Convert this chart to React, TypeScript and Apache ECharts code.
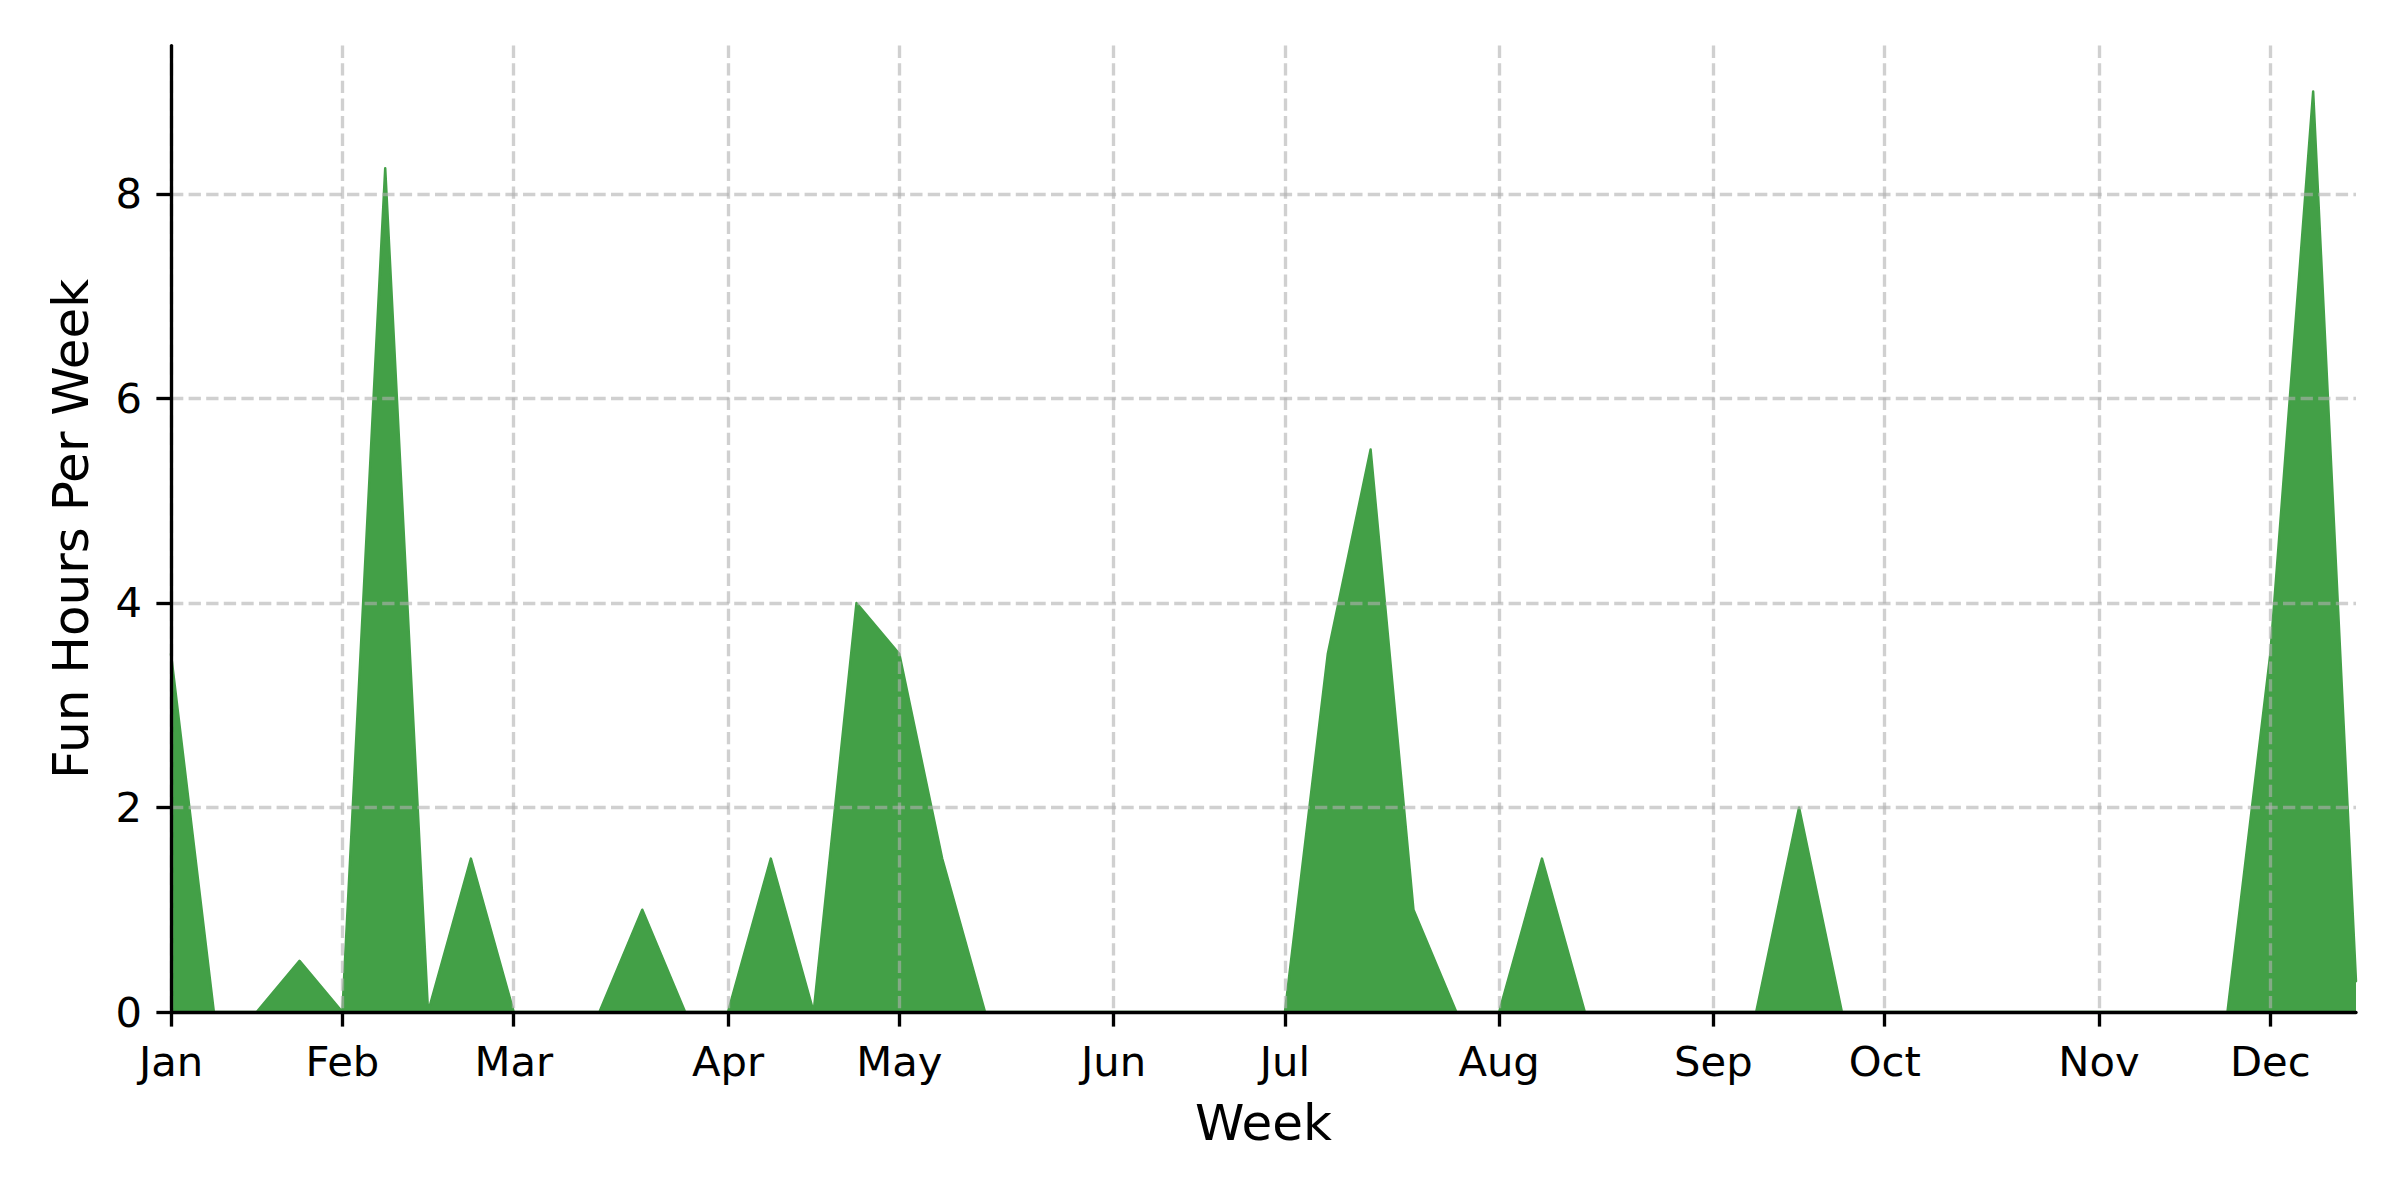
import React, { useEffect, useRef } from "react";
import * as echarts from "echarts";

// Week categories (52 weekly points)
const weeks: string[] = [
  "W1","W2","W3","W4","W5","W6","W7","W8","W9","W10","W11","W12","W13",
  "W14","W15","W16","W17","W18","W19","W20","W21","W22","W23","W24","W25","W26",
  "W27","W28","W29","W30","W31","W32","W33","W34","W35","W36","W37","W38","W39",
  "W40","W41","W42","W43","W44","W45","W46","W47","W48","W49","W50","W51","W52",
];

// Fun hours per week
const funHours: number[] = [
  3.5, 0, 0, 0.5, 0, 8.25, 0, 1.5, 0, 0, 0, 1, 0,
  0, 1.5, 0, 4, 3.5, 1.5, 0, 0, 0, 0, 0, 0, 0,
  0, 3.5, 5.5, 1, 0, 0, 1.5, 0, 0, 0, 0, 0, 2,
  0, 0, 0, 0, 0, 0, 0, 0, 0, 0, 3.5, 9, 0.3,
];

// Month tick positions (week index) and labels
const monthTickIndex: number[] = [0, 4, 8, 13, 17, 22, 26, 31, 36, 40, 45, 49];
const monthTickLabels: string[] = ["Jan", "Feb", "Mar", "Apr", "May", "Jun", "Jul", "Aug", "Sep", "Oct", "Nov", "Dec"];

// Y ticks
const yTicks: number[] = [0, 2, 4, 6, 8];

const FONT = "DejaVu Sans";
const GREEN = "#43a047";
const GRID = "rgba(176,176,176,0.6)";

export default function App() {
  const ref = useRef<HTMLDivElement>(null);
  useEffect(() => {
    if (!ref.current) return;
    const chart = echarts.init(ref.current, null, { renderer: "svg" });
    const isTick = (index: number) => monthTickIndex.indexOf(index) >= 0;
    const gridStyle = { color: GRID, width: 3.33, type: [12.3, 5.3] as any };
    chart.setOption({
      animation: false,
      backgroundColor: "#ffffff",
      textStyle: { fontFamily: FONT },
      grid: { left: 171, right: 44, top: 45.6, bottom: 188 },
      xAxis: {
        type: "category",
        data: weeks,
        boundaryGap: false,
        z: 3,
        name: "Week",
        nameLocation: "middle",
        nameGap: 86,
        nameTextStyle: { fontSize: 50, color: "#000", fontFamily: FONT },
        axisLine: { show: true, onZero: false, lineStyle: { color: "#000", width: 3.33 } },
        axisTick: {
          show: true,
          interval: (i: number) => isTick(i),
          length: 14.6,
          lineStyle: { color: "#000", width: 3.33 },
        },
        axisLabel: {
          interval: (i: number) => isTick(i),
          formatter: (_v: string, i: number) => {
            const k = monthTickIndex.indexOf(i);
            return k >= 0 ? monthTickLabels[k] : "";
          },
          fontSize: 41.7,
          color: "#000",
          fontFamily: FONT,
          margin: 28,
        },
        splitLine: {
          show: true,
          interval: (i: number) => isTick(i),
          lineStyle: gridStyle,
        },
      },
      yAxis: {
        type: "value",
        min: 0,
        max: 9.45,
        interval: 2,
        z: 3,
        name: "Fun Hours Per Week",
        nameLocation: "middle",
        nameRotate: 90,
        nameGap: 75,
        nameTextStyle: { fontSize: 50, color: "#000", fontFamily: FONT },
        axisLine: { show: true, lineStyle: { color: "#000", width: 3.33 } },
        axisTick: {
          show: true,
          customValues: yTicks,
          length: 14.6,
          lineStyle: { color: "#000", width: 3.33 },
        },
        axisLabel: {
          customValues: yTicks,
          formatter: (v: number) => (yTicks.indexOf(v) >= 0 ? String(v) : ""),
          fontSize: 41.7,
          color: "#000",
          fontFamily: FONT,
          margin: 29,
        },
        splitLine: {
          show: true,
          lineStyle: {
            ...gridStyle,
            color: ["rgba(0,0,0,0)", GRID, GRID, GRID, GRID, "rgba(0,0,0,0)"],
          },
        },
      },
      series: [
        {
          type: "line",
          data: funHours,
          showSymbol: false,
          symbol: "none",
          z: 2,
          itemStyle: { color: GREEN },
          lineStyle: { color: GREEN, width: 2.5, join: "round", cap: "round" },
          areaStyle: { color: GREEN, opacity: 1 },
        },
      ],
    });
    return () => chart.dispose();
  }, []);
  return (
    <div
      ref={ref}
      style={{ position: "absolute", left: 0, top: 0, width: 2400, height: 1200 }}
    />
  );
}
